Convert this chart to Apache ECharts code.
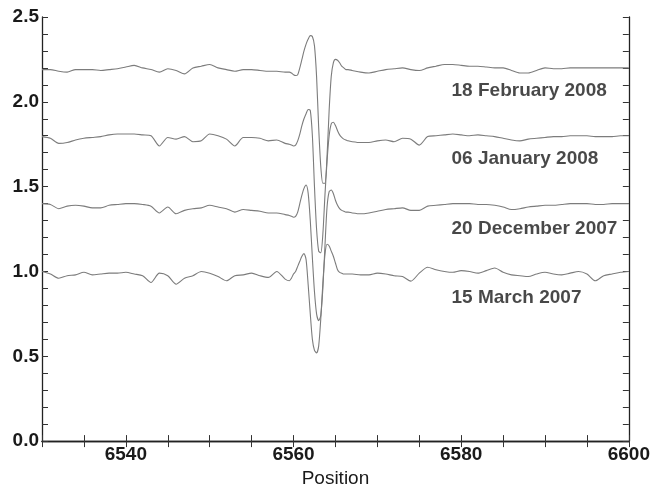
<!DOCTYPE html>
<html>
<head>
<meta charset="utf-8">
<script src="https://cdn.jsdelivr.net/npm/echarts@6/dist/echarts.min.js"></script>
<style>html,body{margin:0;padding:0;background:#fff;overflow:hidden}#c{width:653px;height:493px}</style>
</head>
<body>
<div id="c"></div>
<script>
// Wavelength positions (shared grid)
const wavelength = [
 6530,6531,6532,6533,6534,6535,6536,6537,6538,6539,6540,6541,6542,6543,6544,6545,6546,6547,6548,6549,
 6550,6551,6552,6553,6554,6555,6556,6557,6558,6559,
 6559.5,6559.75,6560,6560.25,6560.5,6560.75,6561,6561.25,6561.5,6561.75,6562,6562.25,6562.5,6562.75,
 6563,6563.25,6563.5,6563.75,6564,6564.25,6564.5,6564.75,6565,6565.25,6565.5,6565.75,6566,6566.25,6566.5,
 6567,6568,6569,6570,6571,6572,6573,6574,6575,6576,6577,6578,6579,6580,6581,6582,6583,6584,6585,6586,
 6587,6588,6589,6590,6591,6592,6593,6594,6595,6596,6597,6598,6599,6600
];
const feb2008 = [
 2.19,2.19,2.18,2.175,2.19,2.19,2.19,2.185,2.19,2.195,2.205,2.215,2.2,2.19,2.175,2.195,2.185,2.165,2.2,2.21,
 2.22,2.2,2.19,2.18,2.19,2.19,2.185,2.18,2.18,2.175,
 2.175,2.17,2.16,2.155,2.16,2.2,2.25,2.3,2.34,2.37,2.39,2.385,2.33,2.15,
 1.85,1.62,1.52,1.52,1.68,1.95,2.15,2.23,2.25,2.245,2.23,2.21,2.2,2.19,2.19,
 2.185,2.175,2.17,2.18,2.19,2.195,2.2,2.19,2.185,2.2,2.21,2.22,2.22,2.215,2.21,2.21,2.205,2.2,2.2,2.185,
 2.17,2.17,2.185,2.2,2.195,2.195,2.2,2.2,2.2,2.2,2.2,2.2,2.2,2.2
];
const jan2008 = [
 1.795,1.785,1.755,1.76,1.775,1.785,1.79,1.795,1.805,1.81,1.81,1.81,1.805,1.8,1.74,1.79,1.78,1.795,1.765,1.77,
 1.81,1.8,1.78,1.74,1.79,1.79,1.785,1.77,1.775,1.755,
 1.75,1.745,1.74,1.745,1.77,1.81,1.86,1.9,1.93,1.955,1.95,1.8,1.5,1.25,
 1.12,1.11,1.22,1.45,1.65,1.8,1.87,1.88,1.86,1.83,1.805,1.79,1.78,1.775,1.77,
 1.765,1.76,1.76,1.77,1.775,1.765,1.785,1.78,1.745,1.795,1.8,1.805,1.81,1.805,1.8,1.805,1.8,1.795,1.785,1.775,
 1.77,1.78,1.785,1.79,1.795,1.795,1.8,1.8,1.8,1.795,1.795,1.795,1.8,1.8
];
const dec2007 = [
 1.4,1.395,1.37,1.385,1.39,1.385,1.375,1.375,1.39,1.395,1.4,1.4,1.395,1.385,1.345,1.38,1.34,1.36,1.37,1.375,
 1.39,1.38,1.37,1.35,1.365,1.36,1.355,1.345,1.345,1.335,
 1.33,1.325,1.32,1.325,1.35,1.4,1.45,1.49,1.51,1.46,1.3,1.08,0.88,0.75,
 0.71,0.74,0.9,1.15,1.38,1.47,1.48,1.46,1.42,1.39,1.37,1.36,1.355,1.35,1.35,
 1.345,1.34,1.345,1.355,1.365,1.37,1.375,1.36,1.36,1.385,1.39,1.395,1.4,1.4,1.4,1.395,1.395,1.39,1.38,1.365,
 1.37,1.38,1.385,1.39,1.39,1.395,1.4,1.4,1.4,1.395,1.395,1.4,1.4,1.4
];
const mar2007 = [
 1.0,0.985,0.96,0.975,0.98,0.995,0.98,0.985,0.99,0.99,0.995,0.985,0.975,0.935,0.99,0.975,0.925,0.96,0.975,1.0,
 0.99,0.97,0.945,0.975,0.98,0.99,0.975,0.965,1.0,0.955,
 0.945,0.96,0.985,1.0,1.03,1.06,1.09,1.105,1.07,0.92,0.75,0.6,0.535,0.52,
 0.56,0.72,0.93,1.1,1.16,1.15,1.12,1.09,1.05,1.01,0.995,0.99,0.985,0.985,0.985,
 0.985,0.98,0.98,0.99,0.985,0.975,0.97,0.943,0.99,1.025,1.01,1.0,0.995,1.005,1.0,0.99,1.005,1.02,0.995,0.98,
 0.975,0.97,0.985,0.995,0.985,0.98,0.99,1.0,0.985,0.945,0.975,0.985,0.995,1.0
];
const seriesNames = ['18 February 2008','06 January 2008','20 December 2007','15 March 2007'];
const labelX = [6578.85, 6578.85, 6578.85, 6578.85];
const labelY = [2.068, 1.665, 1.25, 0.847];

const spectra = [feb2008, jan2008, dec2007, mar2007];
const font = '"Liberation Sans", Arial, Helvetica, sans-serif';
const axisCommon = {
  type: 'value',
  axisLine: {show: true, lineStyle: {color: '#222', width: 1.3}},
  axisTick: {show: true, inside: true, length: 6, lineStyle: {color: '#333', width: 1}},
  splitLine: {show: false}
};
const chart = echarts.init(document.getElementById('c'), null, {renderer: 'canvas', width: 653, height: 493});
const series = spectra.map((vals, i) => ({
  type: 'line',
  name: seriesNames[i],
  data: wavelength.map((w, k) => [w, vals[k]]),
  showSymbol: false,
  symbol: 'none',
  smooth: 0.25,
  lineStyle: {color: '#7c7c7c', width: 1.1},
  silent: true
}));
series.push({
  type: 'scatter',
  symbolSize: 0,
  data: labelX.map((x, i) => ({value: [x, labelY[i]], name: seriesNames[i]})),
  label: {
    show: true, position: 'right', distance: 0,
    formatter: p => p.name,
    fontFamily: font, fontWeight: 'bold', fontSize: 19, color: '#1a1a1a'
  },
  silent: true
});
chart.setOption({
  animation: false,
  backgroundColor: '#fff',
  grid: {left: 42, right: 12, top: 17, bottom: 41, containLabel: false},
  xAxis: [
    Object.assign({}, axisCommon, {
      position: 'bottom', min: 6530, max: 6600, interval: 5,
      name: 'Position', nameLocation: 'middle', nameGap: 20,
      nameTextStyle: {fontFamily: font, fontSize: 19, color: '#1a1a1a'},
      axisLabel: {
        margin: 4, fontFamily: font, fontWeight: 'bold', fontSize: 19, color: '#1a1a1a',
        formatter: v => (Math.round(v) % 20 === 0 ? String(Math.round(v)) : '')
      }
    }),
    Object.assign({}, axisCommon, {
      position: 'top', min: 6530, max: 6600, interval: 5, axisLabel: {show: false}
    })
  ],
  yAxis: [
    Object.assign({}, axisCommon, {
      position: 'left', min: 0, max: 2.5, interval: 0.1,
      axisLabel: {
        margin: 3, fontFamily: font, fontWeight: 'bold', fontSize: 19, color: '#1a1a1a',
        formatter: v => (Math.round(v * 10) % 5 === 0 ? v.toFixed(1) : '')
      }
    }),
    Object.assign({}, axisCommon, {
      position: 'right', min: 0, max: 2.5, interval: 0.1, axisLabel: {show: false}
    })
  ],
  series: series
});
</script>
</body>
</html>
